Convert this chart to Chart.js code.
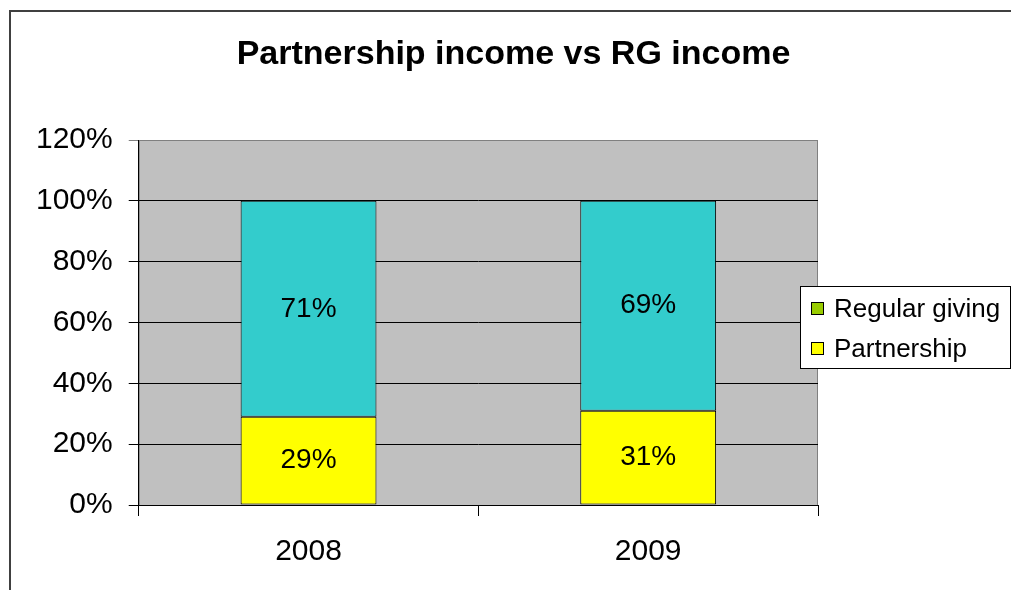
<!DOCTYPE html>
<html>
<head>
<meta charset="utf-8">
<script src="https://cdn.jsdelivr.net/npm/chart.js@4"></script>
<style>
html,body{margin:0;padding:0;background:#fff;}
#wrap{width:1011px;height:590px;position:relative;}
</style>
</head>
<body>
<div id="wrap"><canvas id="c" width="1011" height="590"></canvas></div>
<script>
const categories = ['2008', '2009'];
const partnership = [0.29, 0.31];
const regularGiving = [0.71, 0.69];
const seriesNames = ['Partnership', 'Regular giving'];
const yTicks = [0, 0.2, 0.4, 0.6, 0.8, 1.0, 1.2];
const titleText = 'Partnership income vs RG income';

const FONT = "'Liberation Sans', Arial, sans-serif";

const framePlugin = {
  id: 'frame',
  beforeDraw(chart) {
    const ctx = chart.ctx, a = chart.chartArea;
    ctx.save();
    ctx.fillStyle = '#fff';
    ctx.fillRect(0, 0, chart.width, chart.height);
    // outer chart frame
    ctx.strokeStyle = '#404040';
    ctx.lineWidth = 2;
    ctx.strokeRect(10, 11, chart.width + 20, chart.height + 20);
    // title
    ctx.fillStyle = '#000';
    ctx.font = 'bold 34px ' + FONT;
    ctx.textAlign = 'center';
    ctx.textBaseline = 'middle';
    ctx.fillText(titleText, chart.width / 2 + 8, 55);
    // plot area
    ctx.fillStyle = '#C0C0C0';
    ctx.fillRect(a.left, a.top, a.right - a.left, a.bottom - a.top);
    ctx.strokeStyle = '#808080';
    ctx.lineWidth = 1;
    ctx.strokeRect(a.left + 0.5, a.top + 0.5, a.right - a.left - 1, a.bottom - a.top);
    ctx.restore();
  },
  afterDatasetsDraw(chart) {
    const ctx = chart.ctx;
    ctx.save();
    ctx.font = '28px ' + FONT;
    ctx.fillStyle = '#000';
    ctx.textAlign = 'center';
    ctx.textBaseline = 'middle';
    chart.data.datasets.forEach((ds, di) => {
      const meta = chart.getDatasetMeta(di);
      meta.data.forEach((bar, i) => {
        const v = ds.data[i];
        const y = (bar.y + bar.base) / 2;
        ctx.fillText(Math.round(v * 100) + '%', bar.x, y);
      });
    });
    // legend
    const lx = 800, ly = 286, lw = 210, lh = 82;
    ctx.fillStyle = '#fff';
    ctx.fillRect(lx, ly, lw, lh);
    ctx.strokeStyle = '#000';
    ctx.lineWidth = 1;
    ctx.strokeRect(lx + 0.5, ly + 0.5, lw, lh);
    const items = [
      {label: seriesNames[1], color: '#99CC00'},
      {label: seriesNames[0], color: '#FFFF00'}
    ];
    ctx.font = '26px ' + FONT;
    ctx.textAlign = 'left';
    items.forEach((it, k) => {
      const cy = ly + 23 + k * 40;
      ctx.fillStyle = it.color;
      ctx.fillRect(811, cy - 7, 13, 13);
      ctx.strokeStyle = '#000';
      ctx.strokeRect(811.5, cy - 6.5, 12, 12);
      ctx.fillStyle = '#000';
      ctx.fillText(it.label, 834, cy + 1);
    });
    ctx.restore();
  }
};

new Chart(document.getElementById('c'), {
  type: 'bar',
  data: {
    labels: categories,
    datasets: [
      {label: seriesNames[0], data: partnership, backgroundColor: '#FFFF00', borderColor: '#000', borderWidth: 1, borderSkipped: false},
      {label: seriesNames[1], data: regularGiving, backgroundColor: '#33CCCC', borderColor: '#000', borderWidth: 1, borderSkipped: false}
    ]
  },
  options: {
    responsive: false,
    animation: false,
    devicePixelRatio: 1,
    layout: {padding: {left: 20, right: 193, top: 140, bottom: 2}},
    datasets: {bar: {categoryPercentage: 1, barPercentage: 0.4}},
    plugins: {
      legend: {display: false},
      tooltip: {enabled: false},
      title: {display: false}
    },
    scales: {
      x: {
        stacked: true,
        grid: {offset: true, drawOnChartArea: false, drawTicks: true, tickLength: 11, color: '#000', lineWidth: 1},
        border: {color: '#000', width: 1},
        ticks: {color: '#000', font: {family: FONT, size: 30}, padding: 18}
      },
      y: {
        stacked: true,
        min: 0,
        max: 1.2,
        afterBuildTicks(scale) { scale.ticks = yTicks.map(v => ({value: v})); },
        grid: {
          drawTicks: true,
          tickLength: 10,
          color: (c) => (c.tick && c.tick.value >= 1.2) ? '#808080' : '#000',
          lineWidth: 1
        },
        border: {color: '#000', width: 1},
        ticks: {
          color: '#000',
          font: {family: FONT, size: 30},
          padding: 16,
          callback: (v) => Math.round(v * 100) + '%'
        }
      }
    }
  },
  plugins: [framePlugin]
});
</script>
</body>
</html>
